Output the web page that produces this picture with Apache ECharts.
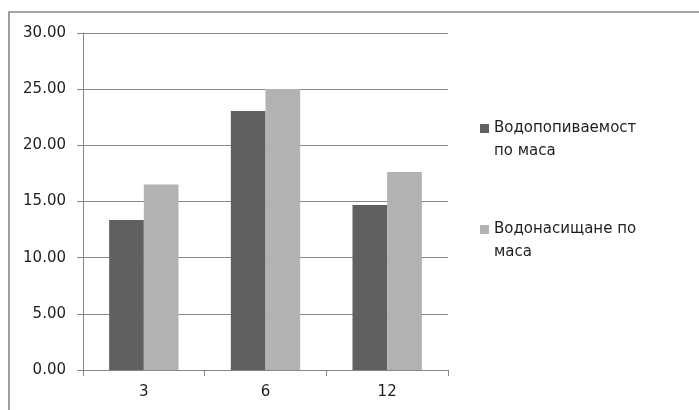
<!DOCTYPE html>
<html>
<head>
<meta charset="utf-8">
<script src="https://cdn.jsdelivr.net/npm/echarts@6/dist/echarts.min.js"></script>
<style>
  html, body { margin: 0; padding: 0; background: #fff; }
  #chart { width: 699px; height: 410px; }
</style>
</head>
<body>
<div id="chart"></div>
<script>
// Water absorption data by period
const categories = ['3', '6', '12'];
const seriesNames = ['Водопопиваемост\nпо маса', 'Водонасищане по\nмаса'];
const absorption = [13.35, 23.05, 14.68];
const saturation = [16.52, 25.02, 17.62];
const yTicks = [0, 5, 10, 15, 20, 25, 30];

const fontFamily = '"DejaVu Sans", sans-serif';
const gridColor = '#878787';
const textColor = '#1e1e1e';

// Legend swatch sits beside the first line of a two-line label:
// a 9x9 square at the top of a 9x32 box (the lower point only extends the box).
const topSquareIcon = 'path://M0,0L9,0L9,9L0,9Z M0,32L9,32';

const chart = echarts.init(document.getElementById('chart'), null, { renderer: 'canvas' });

chart.setOption({
  animation: false,
  backgroundColor: '#fff',
  graphic: [{
    type: 'rect',
    shape: { x: 9, y: 12, width: 700, height: 420 },
    style: { fill: 'none', stroke: '#888', lineWidth: 1.6 },
    silent: true
  }],
  grid: { left: 83, right: 251, top: 33, bottom: 40 },
  legend: {
    orient: 'vertical',
    left: 475,
    top: 112,
    itemWidth: 9,
    itemHeight: 32,
    itemGap: 55,
    icon: topSquareIcon,
    data: seriesNames,
    textStyle: {
      fontFamily: fontFamily,
      fontSize: 15,
      color: textColor,
      lineHeight: 23
    }
  },
  xAxis: {
    type: 'category',
    data: categories,
    axisLine: { lineStyle: { color: gridColor, width: 1 } },
    axisTick: { show: true, length: 6, alignWithLabel: false, lineStyle: { color: gridColor } },
    axisLabel: { margin: 15, fontFamily: fontFamily, fontSize: 15, color: textColor },
    splitLine: { show: false }
  },
  yAxis: {
    type: 'value',
    min: yTicks[0],
    max: yTicks[yTicks.length - 1],
    interval: 5,
    axisLine: { show: true, lineStyle: { color: gridColor, width: 1 } },
    axisTick: { show: true, length: 6, lineStyle: { color: gridColor } },
    axisLabel: {
      margin: 17,
      fontFamily: fontFamily,
      fontSize: 15,
      color: textColor,
      formatter: v => v.toFixed(2)
    },
    splitLine: { show: true, lineStyle: { color: gridColor, width: 1 } }
  },
  series: [
    {
      name: seriesNames[0],
      type: 'bar',
      data: absorption,
      barGap: '0%',
      barCategoryGap: '43%',
      itemStyle: { color: '#606060' }
    },
    {
      name: seriesNames[1],
      type: 'bar',
      data: saturation,
      barGap: '0%',
      barCategoryGap: '43%',
      itemStyle: { color: '#b2b2b2' }
    }
  ]
});
</script>
</body>
</html>
